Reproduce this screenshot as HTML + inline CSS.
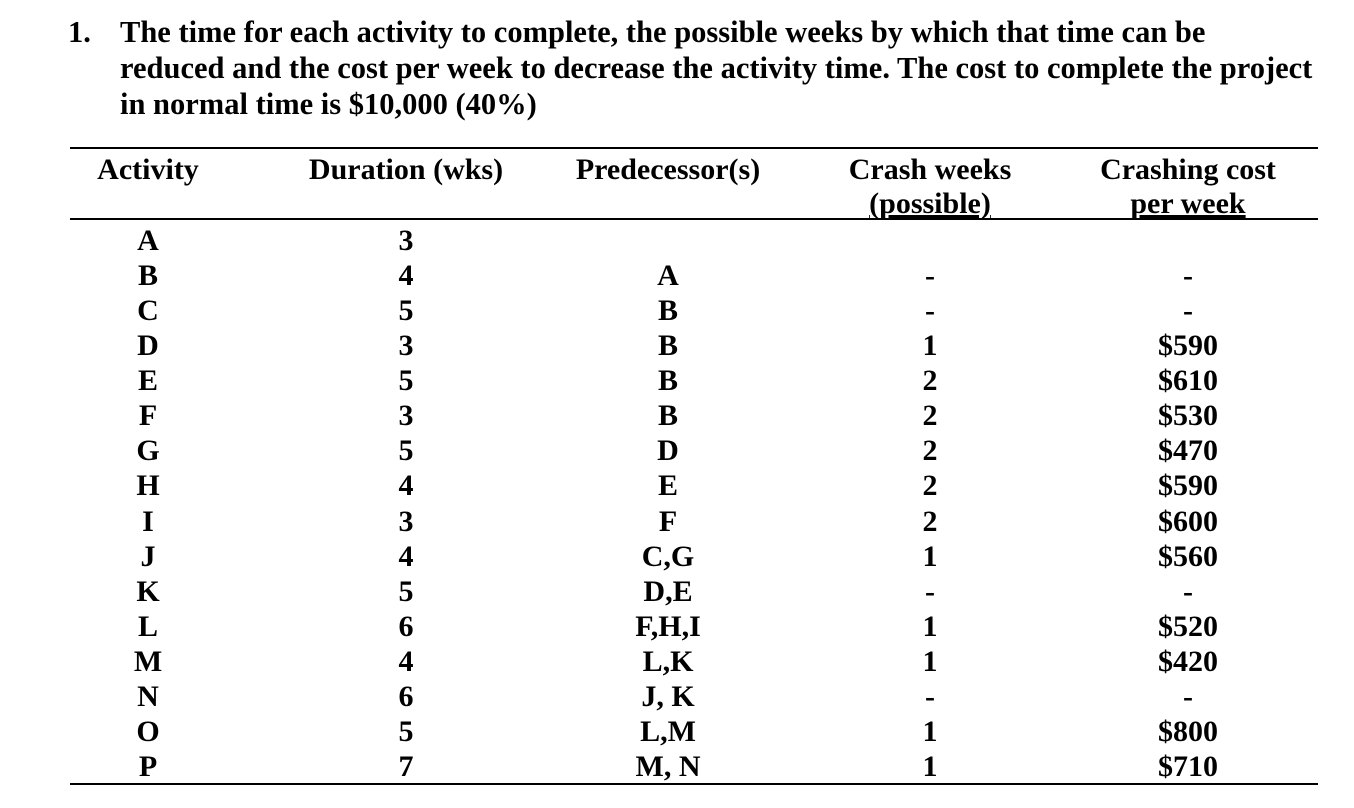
<!DOCTYPE html>
<html><head><meta charset="utf-8"><style>
body{margin:0;width:1354px;height:808px;background:#fff;position:relative;overflow:hidden;font-family:"Liberation Serif",serif;font-weight:bold;color:#000}
.t{position:absolute;font-size:30.5px;line-height:36px;white-space:nowrap}
.c{position:absolute;font-size:30px;line-height:34px;white-space:nowrap;transform:translateX(-50%);text-align:center}
.ln{position:absolute;left:70px;width:1248px;background:#000}
</style></head><body>
<div class="t" style="left:68px;top:14px">1.</div>
<div class="t" style="left:120px;top:14px">The time for each activity to complete, the possible weeks by which that time can be</div>
<div class="t" style="left:120px;top:50px">reduced and the cost per week to decrease the activity time. The cost to complete the project</div>
<div class="t" style="left:120px;top:86px">in normal time is $10,000 (40%)</div>
<div class="ln" style="top:147px;height:2px"></div>
<div class="ln" style="top:218px;height:2px"></div>
<div class="ln" style="top:783px;height:2px"></div>
<div class="c" style="left:148px;top:153px">Activity</div>
<div class="c" style="left:406px;top:153px">Duration (wks)</div>
<div class="c" style="left:668px;top:153px">Predecessor(s)</div>
<div class="c" style="left:930px;top:153px">Crash weeks</div>
<div class="c" style="left:930px;top:187px;text-decoration:underline">(possible)</div>
<div class="c" style="left:1188px;top:153px">Crashing cost</div>
<div class="c" style="left:1188px;top:187px;text-decoration:underline">per week</div>
<div id="rows"></div>
<script>
var d=[["A","3","","",""],["B","4","A","-","-"],["C","5","B","-","-"],["D","3","B","1","$590"],["E","5","B","2","$610"],["F","3","B","2","$530"],["G","5","D","2","$470"],["H","4","E","2","$590"],["I","3","F","2","$600"],["J","4","C,G","1","$560"],["K","5","D,E","-","-"],["L","6","F,H,I","1","$520"],["M","4","L,K","1","$420"],["N","6","J, K","-","-"],["O","5","L,M","1","$800"],["P","7","M, N","1","$710"]];
var xs=[148,406,668,930,1188],h="";
d.forEach(function(r,i){var y=241+i*35.07-17;r.forEach(function(v,j){h+='<div class="c" style="left:'+xs[j]+'px;top:'+y+'px">'+v+'</div>';});});
document.getElementById("rows").innerHTML=h;
</script>
</body></html>
